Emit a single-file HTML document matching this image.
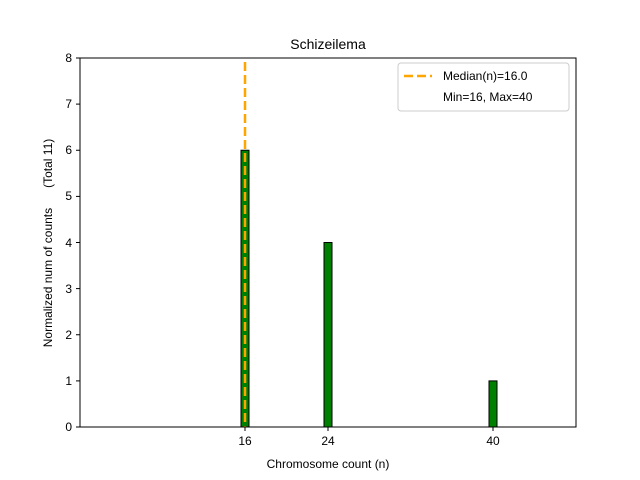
<!DOCTYPE html>
<html><head><meta charset="utf-8"><style>
body{margin:0;background:#fff}
svg{display:block;font-family:"Liberation Sans","DejaVu Sans",sans-serif}
</style></head><body>
<svg width="640" height="480" viewBox="0 0 640 480">
<rect width="640" height="480" fill="#fff"/>
<text x="328" y="49" font-size="14" text-anchor="middle">Schizeilema</text>
<rect x="241" y="150.25" width="8" height="276.75" fill="#008000" stroke="#000" stroke-width="1"/>
<rect x="324" y="242.5" width="8" height="184.5" fill="#008000" stroke="#000" stroke-width="1"/>
<rect x="489" y="380.9" width="8" height="46.1" fill="#008000" stroke="#000" stroke-width="1"/>
<line x1="245" y1="62" x2="245" y2="427" stroke="#ffa500" stroke-width="2.5" stroke-dasharray="9,4"/>
<rect x="80" y="58" width="496" height="369" fill="none" stroke="#000" stroke-width="1"/>
<g stroke="#000" stroke-width="1">
<line x1="80" y1="427" x2="76" y2="427"/><line x1="80" y1="380.9" x2="76" y2="380.9"/>
<line x1="80" y1="334.75" x2="76" y2="334.75"/><line x1="80" y1="288.6" x2="76" y2="288.6"/>
<line x1="80" y1="242.5" x2="76" y2="242.5"/><line x1="80" y1="196.4" x2="76" y2="196.4"/>
<line x1="80" y1="150.25" x2="76" y2="150.25"/><line x1="80" y1="104.1" x2="76" y2="104.1"/>
<line x1="80" y1="58" x2="76" y2="58"/>
<line x1="245" y1="427" x2="245" y2="431"/><line x1="328" y1="427" x2="328" y2="431"/><line x1="493" y1="427" x2="493" y2="431"/>
</g>
<g font-size="12" text-anchor="end">
<text x="72" y="431">0</text><text x="72" y="385">1</text><text x="72" y="339">2</text>
<text x="72" y="293">3</text><text x="72" y="247">4</text><text x="72" y="200">5</text>
<text x="72" y="154">6</text><text x="72" y="108">7</text><text x="72" y="62">8</text>
</g>
<g font-size="12" text-anchor="middle">
<text x="245" y="445">16</text><text x="328" y="445">24</text><text x="493" y="445">40</text>
<text x="328" y="468">Chromosome count (n)</text>
</g>
<text transform="translate(52,243) rotate(-90)" font-size="12" text-anchor="middle" style="white-space:pre" xml:space="preserve">Normalized num of counts      (Total 11)</text>
<rect x="398" y="63" width="171" height="48" rx="3" fill="#fff" stroke="#ccc" stroke-width="1"/>
<line x1="404" y1="76" x2="432" y2="76" stroke="#ffa500" stroke-width="2.5" stroke-dasharray="9,4"/>
<text x="443" y="80" font-size="12">Median(n)=16.0</text>
<text x="443" y="101" font-size="12">Min=16, Max=40</text>
</svg>
</body></html>
